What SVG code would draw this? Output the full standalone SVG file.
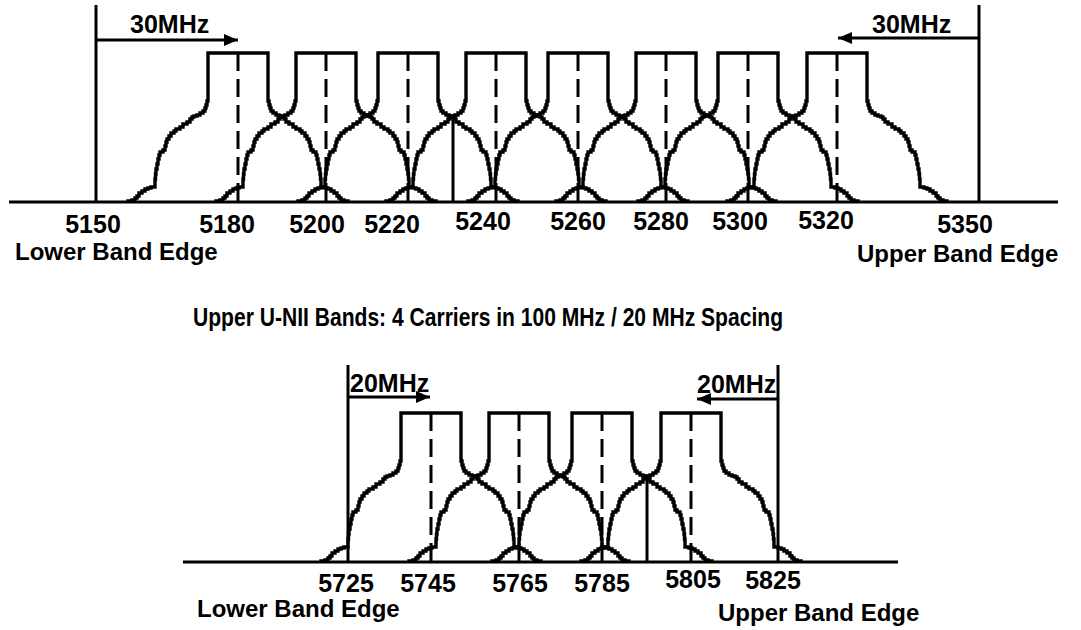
<svg xmlns="http://www.w3.org/2000/svg" width="1081" height="630" viewBox="0 0 1081 630">
<style>
.ln{stroke:#000;stroke-width:3;fill:none}
.sk{stroke:#000;stroke-width:3.4;fill:none;stroke-linejoin:miter}
.ds{stroke:#000;stroke-width:3;stroke-dasharray:18 8;fill:none}
.num{font-family:"Liberation Sans",Arial,sans-serif;font-size:25px;font-weight:bold;fill:#000;text-anchor:middle}
.mhz{font-family:"Liberation Sans",Arial,sans-serif;font-size:25px;font-weight:bold;fill:#000}
.edge{font-family:"Liberation Sans",Arial,sans-serif;font-size:24px;font-weight:bold;fill:#000}
.ttl{font-family:"Liberation Sans",Arial,sans-serif;font-size:25px;font-weight:bold;fill:#000}
</style>
<defs>
<path id="half" class="sk" d="M0,-149 H30 V-101 H31 V-97 H32 V-94 H33 V-91 H35 V-89 H38 V-87 H41 V-86 H44 V-85 H46 V-83 H48 V-80 H51 V-78 H55 V-75 H58 V-73 H62 V-71 H64 V-69 H67 V-66 H69 V-63 H71 V-60 H72 V-56 H73 V-52 H75 V-50 H78 V-47 H79 V-43 H80 V-38 H81 V-33 H82 V-28 H82.5 V-23 H83 V-15 H87 V-14 H90 V-13 H93 V-11 H96 V-9 H99 V-6 H101 V-4 H103 V-2 H106 V-1 H110 V0"/>
<g id="carrier">
<use href="#half"/>
<use href="#half" transform="scale(-1,1)"/>
<line class="ds" x1="0" y1="-149" x2="0" y2="0"/>
</g>
<marker id="ah" markerUnits="userSpaceOnUse" markerWidth="14" markerHeight="12" refX="14" refY="6" orient="auto">
<path d="M0,0 L14,6 L0,12 z" fill="#000"/>
</marker>
</defs>
<rect width="1081" height="630" fill="#fff"/>

<g id="axes">
<line class="ln" x1="9" y1="202" x2="1058" y2="202" stroke-width="3.4"/>
<line class="ln" x1="96" y1="5" x2="96" y2="202"/>
<line class="ln" x1="979" y1="5" x2="979" y2="202"/>
<line class="ln" x1="453" y1="117" x2="453" y2="202"/>
<line class="ln" x1="183" y1="562" x2="898" y2="562" stroke-width="3.4"/>
<line class="ln" x1="348" y1="365" x2="348" y2="562"/>
<line class="ln" x1="778" y1="365" x2="778" y2="562"/>
<line class="ln" x1="647" y1="477" x2="647" y2="562"/>
</g>

<g id="carrier-5180"><use href="#carrier" transform="translate(238,202)"/></g>
<g id="carrier-5200"><use href="#carrier" transform="translate(326,202)"/></g>
<g id="carrier-5220"><use href="#carrier" transform="translate(408,202)"/></g>
<g id="carrier-5240"><use href="#carrier" transform="translate(496,202)"/></g>
<g id="carrier-5260"><use href="#carrier" transform="translate(578,202)"/></g>
<g id="carrier-5280"><use href="#carrier" transform="translate(666,202)"/></g>
<g id="carrier-5300"><use href="#carrier" transform="translate(748,202)"/></g>
<g id="carrier-5320"><use href="#carrier" transform="translate(837,202)"/></g>

<g id="carrier-5745"><use href="#carrier" transform="translate(431,562)"/></g>
<g id="carrier-5765"><use href="#carrier" transform="translate(519,562)"/></g>
<g id="carrier-5785"><use href="#carrier" transform="translate(602,562)"/></g>
<g id="carrier-5805"><use href="#carrier" transform="translate(691,562)"/></g>

<g id="connectors">
<line class="ln" x1="96" y1="40" x2="238" y2="40" marker-end="url(#ah)"/>
<line class="ln" x1="979" y1="38" x2="838" y2="38" marker-end="url(#ah)"/>
<line class="ln" x1="348" y1="397" x2="430" y2="397" marker-end="url(#ah)"/>
<line class="ln" x1="778" y1="399" x2="697" y2="399" marker-end="url(#ah)"/>
</g>

<g id="labels">
<text class="mhz" x="130" y="33">30MHz</text>
<text class="mhz" x="872" y="33">30MHz</text>
<text class="num" x="93" y="233">5150</text>
<text class="num" x="227" y="233">5180</text>
<text class="num" x="317" y="233">5200</text>
<text class="num" x="392" y="233">5220</text>
<text class="num" x="483" y="230">5240</text>
<text class="num" x="578" y="230">5260</text>
<text class="num" x="661" y="230">5280</text>
<text class="num" x="740" y="230">5300</text>
<text class="num" x="826" y="229">5320</text>
<text class="num" x="965" y="233">5350</text>
<text class="edge" x="15" y="260">Lower Band Edge</text>
<text class="edge" x="857" y="262">Upper Band Edge</text>
<text class="ttl" x="193" y="326" textLength="590" lengthAdjust="spacingAndGlyphs">Upper U-NII Bands: 4 Carriers in 100 MHz / 20 MHz Spacing</text>
<text class="mhz" x="350" y="392">20MHz</text>
<text class="mhz" x="697" y="393">20MHz</text>
<text class="num" x="346" y="592">5725</text>
<text class="num" x="428" y="592">5745</text>
<text class="num" x="520" y="592">5765</text>
<text class="num" x="602" y="592">5785</text>
<text class="num" x="693" y="588">5805</text>
<text class="num" x="773" y="589">5825</text>
<text class="edge" x="197" y="617">Lower Band Edge</text>
<text class="edge" x="718" y="621">Upper Band Edge</text>
</g>
</svg>
